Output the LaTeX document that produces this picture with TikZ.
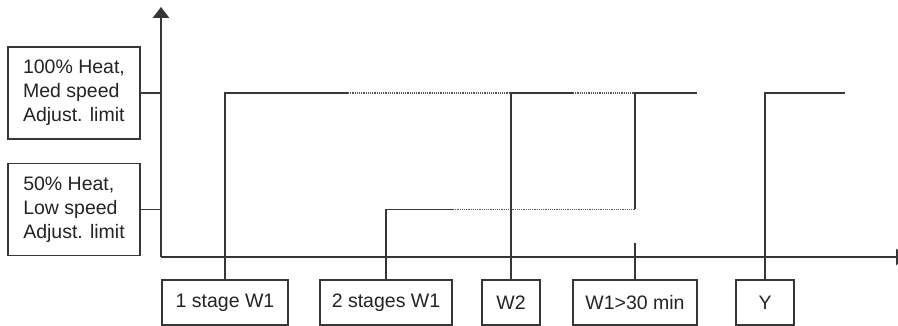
\documentclass[tikz,border=0pt]{standalone}
\usepackage{fontspec}
\setmainfont{Liberation Sans}
\usepackage{tikz}
\usetikzlibrary{arrows.meta, positioning}
\definecolor{linegray}{RGB}{55, 55, 55}
\definecolor{textgray}{RGB}{35, 35, 35}

\begin{document}
\begin{tikzpicture}[x=1pt, y=-1pt,
  every node/.style={font=\fontsize{19.5}{24}\selectfont, text=textgray},
  statebox/.style={draw=linegray, line width=1.1pt, minimum width=132pt, minimum height=92pt, align=left, inner sep=0pt},
  callbox/.style={draw=linegray, line width=1.1pt, minimum height=45pt, inner sep=0pt},
  signal/.style={draw=linegray, line width=1.1pt},
  pending/.style={draw=linegray!85, line width=1.2pt, densely dotted},
  axis/.style={draw=linegray, fill=linegray, line width=1.2pt, -{Triangle[width'=0pt 1.5, length=11pt]}}]
  \useasboundingbox (0,0) rectangle (898,326);

  % Heat levels
  \node[statebox] (heatHigh) at (74,93) {100\% Heat,\\Med speed\\Adjust. limit};
  \node[statebox] (heatLow) at (74,209.5) {50\% Heat,\\Low speed\\Adjust. limit};

  % Thermostat calls
  \node[callbox, minimum width=126pt] (stageOne) at (225,302.5) {1 stage W1};
  \node[callbox, minimum width=132pt] (stageTwo) at (386,302.5) {2 stages W1};
  \node[callbox, minimum width=58pt] (wTwo) at (511,302.5) {W2};
  \node[callbox, minimum width=124pt] (wLong) at (635,302.5) {W1>30 min};
  \node[callbox, minimum width=58pt] (yCall) at (765,302.5) {Y};

  % Axes
  \coordinate (origin) at (161,257);
  \coordinate (yTip) at (161,7);
  \coordinate (xTip) at (907,257);
  \draw[axis] (origin) -- (yTip);
  \draw[axis] (origin) -- (xTip);
  \draw[signal] (heatHigh.east) -- (heatHigh.east -| origin);
  \draw[signal] (heatLow.east) -- (heatLow.east -| origin);

  % Signal ends
  \coordinate (hiA) at (348,93);
  \coordinate (hiB) at (573,93);
  \coordinate (hiC) at (697,93);
  \coordinate (hiD) at (845,93);
  \coordinate (loA) at (453,209.5);
  \coordinate (wLongTick) at (635,243);

  % Stage signals
  \draw[signal] (stageOne.north) |- (hiA);
  \draw[pending] (hiA) -- (wTwo.north |- hiA);
  \draw[signal] (wTwo.north) |- (hiB);
  \draw[pending] (hiB) -- (wLong.north |- hiB);
  \draw[signal] (stageTwo.north) |- (loA);
  \draw[pending] (loA) -- (wLong.north |- loA);
  \draw[signal] (wLong.north |- loA) -- (wLong.north |- hiB) -- (hiC);
  \draw[signal] (wLong.north) -- (wLongTick);
  \draw[signal] (yCall.north) |- (hiD);
\end{tikzpicture}
\end{document}
